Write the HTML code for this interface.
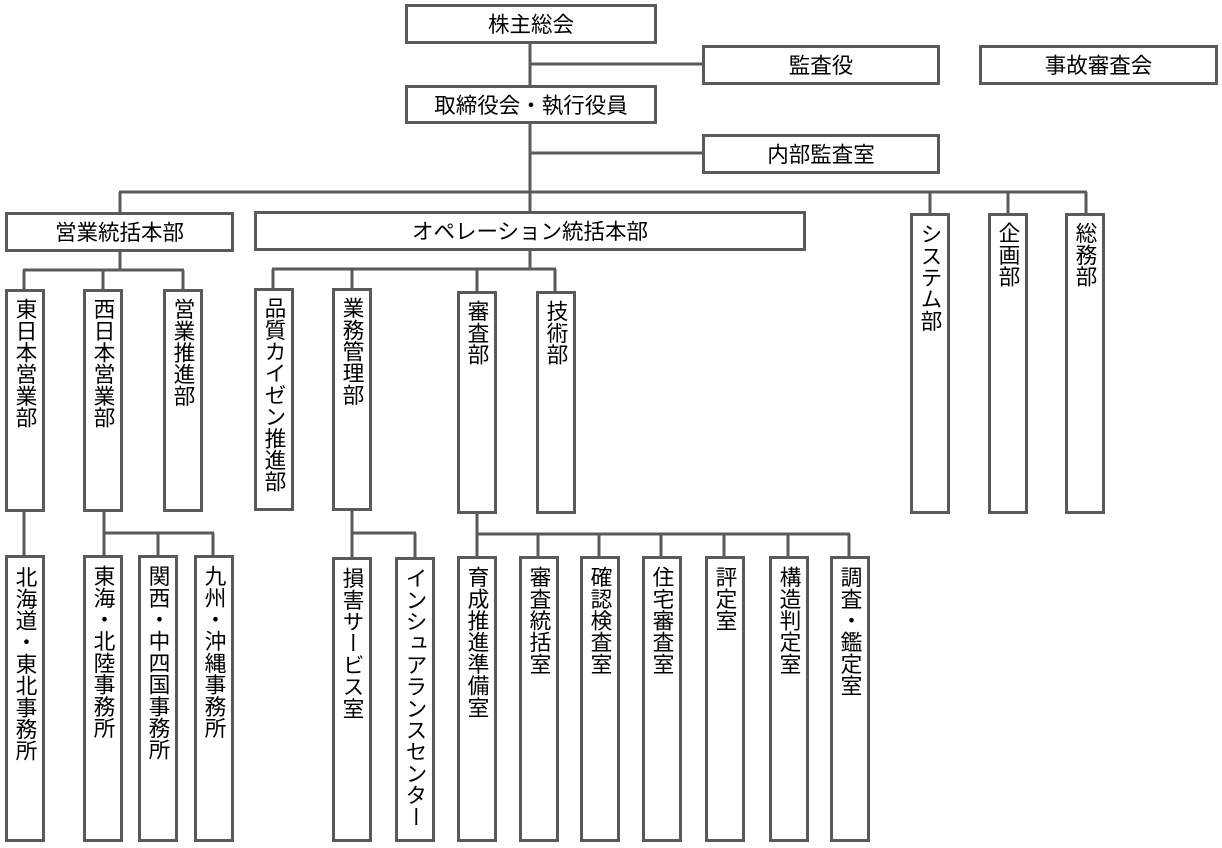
<!DOCTYPE html>
<html lang="ja">
<head>
<meta charset="utf-8">
<style>
  html, body { margin:0; padding:0; background:#fff; }
  #wrap { position:relative; width:1222px; height:848px; overflow:hidden; background:#fff;
    font-family:"Liberation Sans","Noto Sans CJK JP",sans-serif; color:#000; }
  svg { position:absolute; left:0; top:0; }
  .h { position:absolute; display:flex; align-items:center; justify-content:center; box-sizing:border-box; padding-top:4px;
       font-size:21.5px; line-height:1; white-space:nowrap; }
  .v { position:absolute; display:flex; justify-content:center; align-items:flex-start; }
  .v span { writing-mode:vertical-rl; text-orientation:upright; font-size:21.7px; line-height:22px; white-space:nowrap; }
</style>
</head>
<body>
<div id="wrap">
<svg width="1222" height="848" viewBox="0 0 1222 848">
  <g stroke="#5a5a5a" stroke-width="3" fill="none">
    <line x1="530" y1="44" x2="530" y2="85"/>
    <line x1="530" y1="64" x2="703" y2="64"/>
    <line x1="530" y1="124" x2="530" y2="211"/>
    <line x1="530" y1="153" x2="703" y2="153"/>
    <line x1="119" y1="192" x2="1087" y2="192"/>
    <line x1="120" y1="192" x2="120" y2="212"/>
    <line x1="930" y1="192" x2="930" y2="213"/>
    <line x1="1008" y1="192" x2="1008" y2="213"/>
    <line x1="1086" y1="192" x2="1086" y2="213"/>

    <line x1="120" y1="252" x2="120" y2="270"/>
    <line x1="23" y1="270" x2="184" y2="270"/>
    <line x1="24" y1="270" x2="24" y2="289"/>
    <line x1="103" y1="270" x2="103" y2="289"/>
    <line x1="183" y1="270" x2="183" y2="289"/>

    <line x1="530" y1="251" x2="530" y2="269"/>
    <line x1="272" y1="269" x2="556" y2="269"/>
    <line x1="273" y1="269" x2="273" y2="288"/>
    <line x1="352" y1="269" x2="352" y2="288"/>
    <line x1="477" y1="269" x2="477" y2="291"/>
    <line x1="555" y1="269" x2="555" y2="291"/>

    <line x1="24" y1="512" x2="24" y2="555"/>
    <line x1="104" y1="512" x2="104" y2="555"/>
    <line x1="104" y1="533" x2="214" y2="533"/>
    <line x1="158" y1="533" x2="158" y2="555"/>
    <line x1="213" y1="533" x2="213" y2="555"/>

    <line x1="352" y1="511" x2="352" y2="557"/>
    <line x1="352" y1="533" x2="416" y2="533"/>
    <line x1="415" y1="533" x2="415" y2="557"/>

    <line x1="477" y1="514" x2="477" y2="556"/>
    <line x1="477" y1="534" x2="850" y2="534"/>
    <line x1="538" y1="534" x2="538" y2="556"/>
    <line x1="599" y1="534" x2="599" y2="556"/>
    <line x1="661" y1="534" x2="661" y2="556"/>
    <line x1="724" y1="534" x2="724" y2="556"/>
    <line x1="788" y1="534" x2="788" y2="556"/>
    <line x1="849" y1="534" x2="849" y2="556"/>
  </g>
  <g stroke="#5a5a5a" stroke-width="3" fill="#fff">
    <rect x="406.5" y="5.5" width="249" height="37"/>
    <rect x="703.5" y="46.5" width="235" height="37"/>
    <rect x="980.5" y="46.5" width="236" height="37"/>
    <rect x="406.5" y="86.5" width="249" height="36"/>
    <rect x="703.5" y="135.5" width="235" height="37"/>
    <rect x="6.5" y="213.5" width="226" height="37"/>
    <rect x="255.5" y="212.5" width="549" height="37"/>
    <rect x="6.5" y="290.5" width="37" height="220"/>
    <rect x="84.5" y="290.5" width="37" height="220"/>
    <rect x="164.5" y="290.5" width="37" height="220"/>
    <rect x="255.5" y="289.5" width="37" height="220"/>
    <rect x="333.5" y="289.5" width="37" height="220"/>
    <rect x="458.5" y="292.5" width="37" height="220"/>
    <rect x="537.5" y="292.5" width="37" height="220"/>
    <rect x="911.5" y="214.5" width="37" height="298"/>
    <rect x="989.5" y="214.5" width="37" height="298"/>
    <rect x="1066.5" y="214.5" width="37" height="298"/>
    <rect x="6.5" y="556.5" width="37" height="284"/>
    <rect x="84.5" y="556.5" width="37" height="284"/>
    <rect x="139.5" y="556.5" width="37" height="284"/>
    <rect x="195.5" y="556.5" width="37" height="284"/>
    <rect x="333.5" y="558.5" width="37" height="282"/>
    <rect x="396.5" y="558.5" width="37" height="282"/>
    <rect x="458.5" y="557.5" width="37" height="283"/>
    <rect x="520.5" y="557.5" width="37" height="283"/>
    <rect x="581.5" y="557.5" width="37" height="283"/>
    <rect x="643.5" y="557.5" width="37" height="283"/>
    <rect x="706.5" y="557.5" width="37" height="283"/>
    <rect x="770.5" y="557.5" width="37" height="283"/>
    <rect x="831.5" y="557.5" width="37" height="283"/>
  </g>
</svg>

<div class="h" style="left:405px;top:4px;width:252px;height:40px;">株主総会</div>
<div class="h" style="left:702px;top:45px;width:238px;height:40px;">監査役</div>
<div class="h" style="left:979px;top:45px;width:239px;height:40px;">事故審査会</div>
<div class="h" style="left:405px;top:85px;width:252px;height:39px;">取締役会・執行役員</div>
<div class="h" style="left:702px;top:134px;width:238px;height:40px;">内部監査室</div>
<div class="h" style="left:5px;top:212px;width:229px;height:40px;">営業統括本部</div>
<div class="h" style="left:254px;top:211px;width:552px;height:40px;">オペレーション統括本部</div>

<div class="v" style="left:5px;top:298px;width:40px;"><span>東日本営業部</span></div>
<div class="v" style="left:83px;top:298px;width:40px;"><span>西日本営業部</span></div>
<div class="v" style="left:163px;top:298px;width:40px;"><span>営業推進部</span></div>
<div class="v" style="left:254px;top:297px;width:40px;"><span>品質カイゼン推進部</span></div>
<div class="v" style="left:332px;top:297px;width:40px;"><span>業務管理部</span></div>
<div class="v" style="left:457px;top:300px;width:40px;"><span>審査部</span></div>
<div class="v" style="left:536px;top:300px;width:40px;"><span>技術部</span></div>
<div class="v" style="left:910px;top:223px;width:40px;"><span>システム部</span></div>
<div class="v" style="left:988px;top:222px;width:40px;"><span>企画部</span></div>
<div class="v" style="left:1065px;top:222px;width:40px;"><span>総務部</span></div>

<div class="v" style="left:5px;top:566px;width:40px;"><span>北海道・東北事務所</span></div>
<div class="v" style="left:83px;top:565px;width:40px;"><span>東海・北陸事務所</span></div>
<div class="v" style="left:138px;top:565px;width:40px;"><span>関西・中四国事務所</span></div>
<div class="v" style="left:194px;top:565px;width:40px;"><span>九州・沖縄事務所</span></div>
<div class="v" style="left:332px;top:567px;width:40px;"><span>損害サービス室</span></div>
<div class="v" style="left:395px;top:567px;width:40px;"><span>インシュアランスセンター</span></div>
<div class="v" style="left:457px;top:566px;width:40px;"><span>育成推進準備室</span></div>
<div class="v" style="left:519px;top:566px;width:40px;"><span>審査統括室</span></div>
<div class="v" style="left:580px;top:566px;width:40px;"><span>確認検査室</span></div>
<div class="v" style="left:642px;top:566px;width:40px;"><span>住宅審査室</span></div>
<div class="v" style="left:705px;top:566px;width:40px;"><span>評定室</span></div>
<div class="v" style="left:769px;top:566px;width:40px;"><span>構造判定室</span></div>
<div class="v" style="left:830px;top:566px;width:40px;"><span>調査・鑑定室</span></div>
</div>
</body>
</html>
